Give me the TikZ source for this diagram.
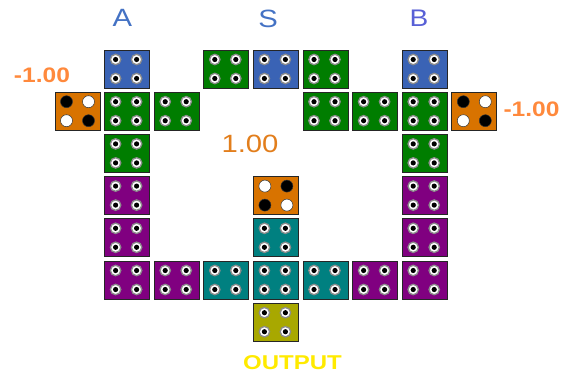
\documentclass[tikz,border=0pt]{standalone}
\usepackage{fontspec}
\setmainfont{Liberation Sans}
\definecolor{brickBlue}{RGB}{58,99,181}
\definecolor{brickGreen}{RGB}{0,125,0}
\definecolor{brickOrange}{RGB}{216,115,0}
\definecolor{brickPurple}{RGB}{128,0,128}
\definecolor{brickTeal}{RGB}{0,128,128}
\definecolor{brickOlive}{RGB}{168,168,0}
\definecolor{labelBlue}{RGB}{68,114,196}
\definecolor{labelViolet}{RGB}{88,96,214}
\definecolor{weightOrange}{RGB}{255,137,60}
\definecolor{biasOrange}{RGB}{226,126,28}
\definecolor{outYellow}{RGB}{255,234,0}
\newcommand{\wide}[1]{\scalebox{1.17}[1]{#1}}
\tikzset{
	brick/.style={draw=black!85, line width=0.9pt, minimum width=45pt, minimum height=38pt, inner sep=0pt},
	hole/.style={fill=white, draw=black!45, line width=1.3pt},
	pin/.style={draw=black!80, line width=0.5pt}
}

\begin{document}
\begin{tikzpicture}[x=1pt, y=-1pt]
	\useasboundingbox (0,0) rectangle (561,375);
	% column c, row r: brick centre at (77.5 + 49.6 c, 69 + 42.2 r)
	\foreach \c/\r/\col in {1/0/brickBlue, 3/0/brickGreen, 4/0/brickBlue, 5/0/brickGreen, 7/0/brickBlue,
			1/1/brickGreen, 2/1/brickGreen, 5/1/brickGreen, 6/1/brickGreen, 7/1/brickGreen,
			1/2/brickGreen, 7/2/brickGreen,
			1/3/brickPurple, 7/3/brickPurple,
			1/4/brickPurple, 4/4/brickTeal, 7/4/brickPurple,
			1/5/brickPurple, 2/5/brickPurple, 3/5/brickTeal, 4/5/brickTeal, 5/5/brickTeal, 6/5/brickPurple, 7/5/brickPurple,
			4/6/brickOlive} {
		\node[brick, fill=\col] (t\c\r) at ({77.5 + 49.6 * \c}, {69 + 42.2 * \r}) {};
		\foreach \dx/\dy in {-1/-1, 1/-1, -1/1, 1/1} {
			\filldraw[hole] ([shift={(10.5 * \dx - 1, 9.5 * \dy)}]t\c\r.center) circle (5.2);
			\fill[black] ([shift={(10.5 * \dx - 1, 9.5 * \dy)}]t\c\r.center) circle (2.6);
		}
	}
	% weight and bias bricks: top left and bottom right share a colour
	\foreach \c/\r/\diag/\anti in {0/1/black/white, 8/1/black/white, 4/3/white/black} {
		\node[brick, fill=brickOrange] (t\c\r) at ({77.5 + 49.6 * \c}, {69 + 42.2 * \r}) {};
		\filldraw[pin, fill=\diag] ([shift={(-11, -9.5)}]t\c\r.center) circle (6);
		\filldraw[pin, fill=\anti] ([shift={(11, -9.5)}]t\c\r.center) circle (6);
		\filldraw[pin, fill=\anti] ([shift={(-11, 9.5)}]t\c\r.center) circle (6);
		\filldraw[pin, fill=\diag] ([shift={(11, 9.5)}]t\c\r.center) circle (6);
	}
	% labels
	\node[text=labelBlue, font=\fontsize{25}{28}\selectfont] (labA) at (122.5, 17.5) {\wide{A}};
	\node[text=labelBlue, font=\fontsize{25}{28}\selectfont] (labS) at (268, 19) {\wide{S}};
	\node[text=labelViolet, font=\fontsize{24}{28}\selectfont] (labB) at (419, 18) {\wide{B}};
	\node[text=weightOrange, font=\fontsize{21}{24}\selectfont\bfseries] (wA) at (42, 75.5) {\wide{-1.00}};
	\node[text=weightOrange, font=\fontsize{21}{24}\selectfont\bfseries] (wB) at (531.5, 109.5) {\wide{-1.00}};
	\node[text=biasOrange, font=\fontsize{25}{28}\selectfont] (bias) at (250, 144) {\wide{1.00}};
	\node[text=outYellow, font=\fontsize{20}{23}\selectfont\bfseries] (out) at (292.5, 363) {\scalebox{1.2}[1]{OUTPUT}};
\end{tikzpicture}
\end{document}
